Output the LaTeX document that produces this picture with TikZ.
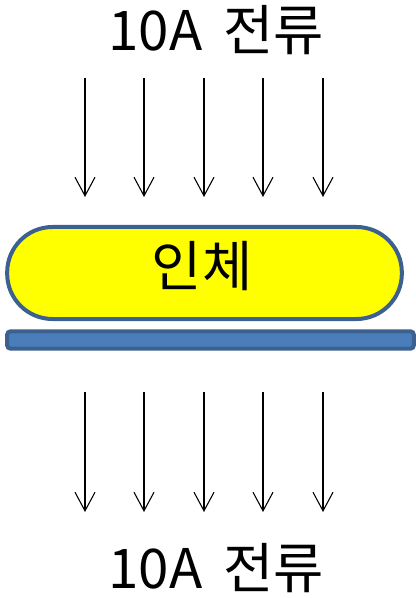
\documentclass[tikz,border=0pt]{standalone}
\usepackage{fontspec}
\setmainfont{Noto Sans CJK KR}
\usetikzlibrary{arrows.meta}
\definecolor{bodyfill}{HTML}{FFFF00}
\definecolor{edgeblue}{HTML}{3C6190}
\definecolor{barfill}{HTML}{4A7EBB}
\newcommand{\widespace}{\spaceskip=0.38em\relax}
\tikzset{
  flow/.style={-{Straight Barb[length=14pt,width=15pt,line width=0.8pt]}, line width=0.8pt, black},
  curlbl/.style={font=\fontsize{41}{46}\selectfont, inner sep=0pt, anchor=center,
                 execute at begin node=\widespace},
}
\begin{document}
\begin{tikzpicture}[x=0.75pt,y=-0.75pt]
\useasboundingbox (0,0) rectangle (416,598);
\node[curlbl] (top) at (216,30) {10A 전류};
\node[curlbl] (bot) at (216,568) {10A 전류};
\node[draw=edgeblue, line width=3pt, fill=bodyfill, rounded corners=34pt,
      minimum width=296pt, minimum height=69pt, inner sep=0pt] (body) at (204.5,273) {};
\node[curlbl] (bodytext) at (202,266) {인체};
\node[draw=edgeblue, line width=3pt, fill=barfill, rounded corners=2.5pt,
      minimum width=305pt, minimum height=13pt, inner sep=0pt] (bar) at (210.5,340) {};
\foreach \i/\x in {1/85,2/144,3/204,4/263,5/323}{
  \coordinate (ta\i) at (\x,78);
  \coordinate (tb\i) at (\x,197);
  \coordinate (ba\i) at (\x,392);
  \coordinate (bb\i) at (\x,512);
  \draw[flow] (ta\i) -- (tb\i);
  \draw[flow] (ba\i) -- (bb\i);
}
\end{tikzpicture}
\end{document}
